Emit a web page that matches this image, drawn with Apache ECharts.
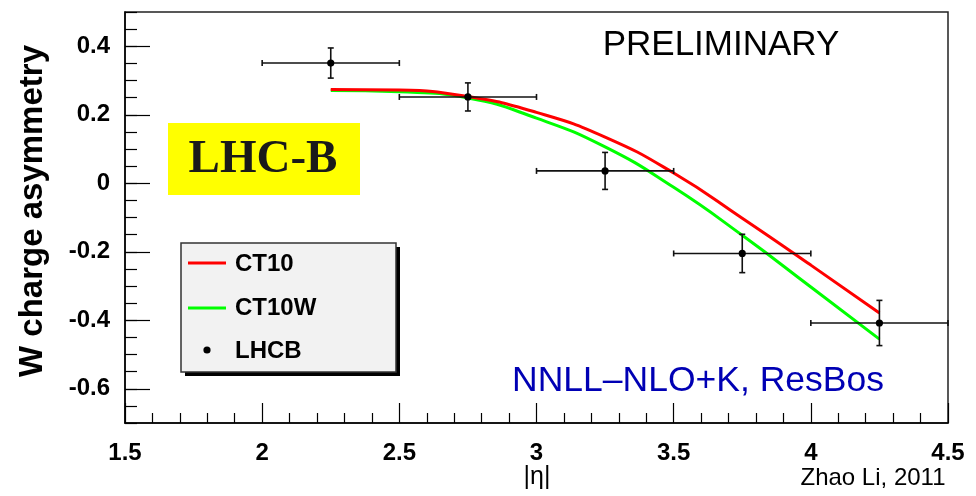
<!DOCTYPE html>
<html>
<head>
<meta charset="utf-8">
<script src="https://cdn.jsdelivr.net/npm/echarts@6/dist/echarts.min.js"></script>
<style>
html,body{margin:0;padding:0;background:#fff;}
#chart{width:976px;height:496px;}
</style>
</head>
<body>
<div id="chart"></div>
<script>
// ---- data ----
var curveX = [2.25, 2.5, 2.75, 3.0, 3.25, 3.5, 3.75, 4.0, 4.25];
var ct10 = [0.274, 0.272, 0.253, 0.207, 0.135, 0.030, -0.102, -0.239, -0.379];
var ct10w = [0.271, 0.267, 0.249, 0.190, 0.106, -0.012, -0.152, -0.303, -0.455];
var lhcbX = [2.25, 2.75, 3.25, 3.75, 4.25];
var lhcbY = [0.351, 0.252, 0.036, -0.205, -0.408];
var lhcbXErr = [0.25, 0.25, 0.25, 0.25, 0.25];
var lhcbYErr = [0.044, 0.041, 0.054, 0.056, 0.066];
var yTickLabels = [-0.6, -0.4, -0.2, 0, 0.2, 0.4];
var legendNames = ['CT10', 'CT10W', 'LHCB'];

var FONT = "'Liberation Sans', Arial, Helvetica, sans-serif";

function pairs(xs, ys) { return xs.map(function (x, i) { return [x, ys[i]]; }); }
var errData = lhcbX.map(function (x, i) { return [x, lhcbY[i], lhcbXErr[i], lhcbYErr[i]]; });

var chart = echarts.init(document.getElementById('chart'), null, {renderer: 'canvas'});

var option = {
  animation: false,
  backgroundColor: '#fff',
  grid: {left: 125, right: 28, top: 12, bottom: 73, show: true, borderColor: '#222', borderWidth: 1.5, backgroundColor: 'transparent'},
  xAxis: {
    type: 'value', min: 1.5, max: 4.5, interval: 0.5,
    axisLine: {show: true, onZero: false, lineStyle: {color: '#000', width: 1.5}},
    axisTick: {show: true, inside: true, length: 20, lineStyle: {color: '#000', width: 1.2}},
    minorTick: {show: true, splitNumber: 5, length: 10, lineStyle: {color: '#000', width: 1.2}},
    axisLabel: {color: '#000', fontFamily: FONT, fontWeight: 'bold', fontSize: 24, margin: 18},
    splitLine: {show: false}
  },
  yAxis: [{
    type: 'value', min: -0.7, max: 0.5, position: 'left',
    axisLine: {show: true, onZero: false, lineStyle: {color: '#000', width: 1.5}},
    axisTick: {show: true, inside: true, length: 25, customValues: yTickLabels, lineStyle: {color: '#000', width: 1.2}},
    axisLabel: {color: '#000', fontFamily: FONT, fontWeight: 'bold', fontSize: 24, margin: 15, customValues: yTickLabels,
      formatter: function (v) { return String(Math.round(v * 10) / 10); }},
    splitLine: {show: false}
  }, {
    type: 'value', min: -0.7, max: 0.5, interval: 0.05, position: 'left',
    axisLine: {show: false},
    axisTick: {show: true, inside: true, length: 12, lineStyle: {color: '#000', width: 1.2}},
    axisLabel: {show: false},
    splitLine: {show: false}
  }],
  series: [{
    name: legendNames[0], type: 'line', data: pairs(curveX, ct10), smooth: 0.5,
    showSymbol: false, symbol: 'none', lineStyle: {color: '#ff0000', width: 3}, z: 3
  }, {
    name: legendNames[1], type: 'line', data: pairs(curveX, ct10w), smooth: 0.5,
    showSymbol: false, symbol: 'none', lineStyle: {color: '#00ff00', width: 3}, z: 2
  }, {
    name: legendNames[2], type: 'custom', data: errData, z: 5,
    renderItem: function (params, api) {
      var x = api.value(0), y = api.value(1), ex = api.value(2), ey = api.value(3);
      var c = api.coord([x, y]);
      var l = api.coord([x - ex, y]), r = api.coord([x + ex, y]);
      var t = api.coord([x, y + ey]), b = api.coord([x, y - ey]);
      var st = {stroke: '#111', lineWidth: 1.6};
      var cap = 3;
      return {type: 'group', children: [
        {type: 'line', shape: {x1: l[0], y1: l[1], x2: r[0], y2: r[1]}, style: st},
        {type: 'line', shape: {x1: t[0], y1: t[1], x2: b[0], y2: b[1]}, style: st},
        {type: 'line', shape: {x1: l[0], y1: l[1] - cap, x2: l[0], y2: l[1] + cap}, style: st},
        {type: 'line', shape: {x1: r[0], y1: r[1] - cap, x2: r[0], y2: r[1] + cap}, style: st},
        {type: 'line', shape: {x1: t[0] - cap, y1: t[1], x2: t[0] + cap, y2: t[1]}, style: st},
        {type: 'line', shape: {x1: b[0] - cap, y1: b[1], x2: b[0] + cap, y2: b[1]}, style: st},
        {type: 'circle', shape: {cx: c[0], cy: c[1], r: 3.6}, style: {fill: '#000'}}
      ]};
    }
  }],
  graphic: [
    {type: 'text', x: 33, y: 211, rotation: Math.PI / 2,
      style: {text: 'W charge asymmetry', font: 'bold 33px ' + FONT, fill: '#000', align: 'center', verticalAlign: 'middle'}},
    {type: 'text', x: 537, y: 477,
      style: {text: '|η|', font: '25px ' + FONT, fill: '#000', align: 'center', verticalAlign: 'middle'}},
    {type: 'text', x: 873, y: 478,
      style: {text: 'Zhao Li, 2011', font: '24px ' + FONT, fill: '#000', align: 'center', verticalAlign: 'middle'}},
    {type: 'text', x: 721, y: 45,
      style: {text: 'PRELIMINARY', font: '35px ' + FONT, fill: '#000', align: 'center', verticalAlign: 'middle'}},
    {type: 'text', x: 698, y: 381,
      style: {text: 'NNLL–NLO+K, ResBos', font: '35.5px ' + FONT, fill: '#0000b4', align: 'center', verticalAlign: 'middle'}},
    {type: 'rect', shape: {x: 168, y: 123, width: 192, height: 72}, style: {fill: '#ffff00'}},
    {type: 'text', x: 263, y: 160,
      style: {text: 'LHC-B', font: "bold 47px 'Liberation Serif', 'Times New Roman', serif", fill: '#1a1a1a', align: 'center', verticalAlign: 'middle'}},
    // legend box
    {type: 'rect', shape: {x: 185, y: 247, width: 215, height: 129}, style: {fill: '#000'}, z: 10},
    {type: 'rect', shape: {x: 181, y: 243, width: 215, height: 129}, style: {fill: '#f2f2f2', stroke: '#333', lineWidth: 1.5}, z: 11},
    {type: 'line', shape: {x1: 188, y1: 263, x2: 226, y2: 263}, style: {stroke: '#ff0000', lineWidth: 3}, z: 12},
    {type: 'line', shape: {x1: 188, y1: 308, x2: 226, y2: 308}, style: {stroke: '#00ff00', lineWidth: 3}, z: 12},
    {type: 'circle', shape: {cx: 207, cy: 350, r: 3.6}, style: {fill: '#000'}, z: 12},
    {type: 'text', x: 235, y: 264, style: {text: legendNames[0], font: 'bold 24px ' + FONT, fill: '#000', verticalAlign: 'middle'}, z: 12},
    {type: 'text', x: 235, y: 308, style: {text: legendNames[1], font: 'bold 24px ' + FONT, fill: '#000', verticalAlign: 'middle'}, z: 12},
    {type: 'text', x: 235, y: 351, style: {text: legendNames[2], font: 'bold 24px ' + FONT, fill: '#000', verticalAlign: 'middle'}, z: 12}
  ]
};
chart.setOption(option);
</script>
</body>
</html>
